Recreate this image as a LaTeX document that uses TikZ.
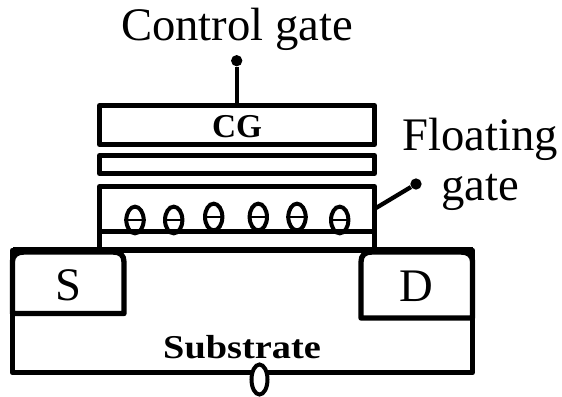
\documentclass[tikz,border=0pt]{standalone}
\usepackage{fontspec}
\setmainfont{Liberation Serif}
\usetikzlibrary{shapes.geometric}
\tikzset{
  lbl/.style={inner sep=0pt,font=\fontsize{35}{38}\selectfont},
  boldlbl/.style={inner sep=0pt,font=\fontsize{25}{28}\selectfont\bfseries},
  plate/.style={draw=black,line width=3.75pt,line join=round},
  wire/.style={draw=black,line width=3.2pt},
  pin/.style={circle,fill=black,inner sep=0pt,minimum size=8.5pt},
  electron/.style={ellipse,draw=black,fill=white,line width=3pt,inner sep=0pt,minimum width=13pt,minimum height=20pt},
  port/.style={ellipse,draw=black,fill=white,line width=3pt,inner sep=0pt,minimum width=12pt,minimum height=22.5pt},
}
\begin{document}
\begin{tikzpicture}[x=0.75pt,y=-0.75pt]
\useasboundingbox (0,0) rectangle (562,397);
\fill[white] (0,0) rectangle (562,397);
% substrate
\draw[plate] (12.5,250) rectangle (472.5,372.7);
% floating gate stack
\node[pin] (cgpin) at (236.7,60.7) {};
\coordinate (cgtop) at (236.7,105.5);
\draw[wire] (cgpin) -- (cgtop);
\draw[plate] (99.5,105.5) rectangle (374.5,144.5);
\draw[plate] (99.5,155.5) rectangle (374.5,173.5);
\draw[plate] (99.5,250) -- (99.5,186.5) -- (374.5,186.5) -- (374.5,250);
\foreach \n/\x/\y in {1/135/220,2/173.7/220,3/213.7/217,4/258.3/217,5/297/217,6/339.7/220}{
  \node[electron] (e\n) at (\x,\y) {};
  \draw[line width=2.2pt] (e\n.west) -- (e\n.east);
}
\draw[plate] (99.5,231.7) -- (374.5,231.7);
% source and drain
\draw[plate,line width=4pt] (124,313.5) -- (124,262) .. controls (124,255) and (120,252) .. (113,252) -- (24,252) .. controls (17,252) and (12.5,255) .. (12.5,262) -- (12.5,313.5) -- cycle;
\draw[plate,line width=4pt] (361,318) -- (361,262) .. controls (361,255) and (365,252) .. (372,252) -- (461,252) .. controls (468,252) and (472.5,255) .. (472.5,262) -- (472.5,318) -- cycle;
\draw[plate,line width=4.4pt] (12.5,250) -- (472.5,250);
% floating gate pin
\node[pin] (fgpin) at (416,184) {};
\coordinate (fgedge) at (376,208);
\draw[wire] (fgpin) -- (fgedge);
% substrate port
\node[port] (sub) at (259.5,379.5) {};
% labels
\node[lbl,anchor=base] (t1) at (237,40) {Control gate};
\node[lbl,anchor=base] (t2) at (480,150) {Floating};
\node[lbl,anchor=base] (t3) at (480,200) {gate};
\node[boldlbl] (t4) at (237,127) {CG};
\node[boldlbl,xscale=1.15] (t5) at (242,347) {Substrate};
\node[lbl] (t6) at (68,285) {S};
\node[lbl] (t7) at (416,286) {D};
\end{tikzpicture}
\end{document}
